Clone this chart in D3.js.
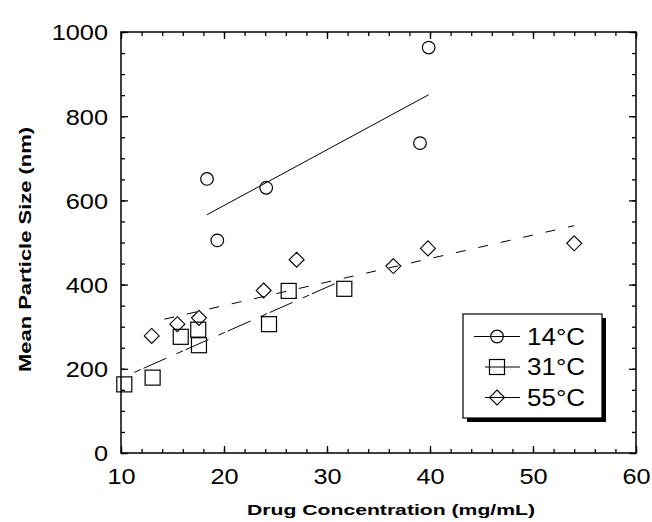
<!DOCTYPE html>
<html>
<head>
<meta charset="utf-8">
<script src="https://cdn.jsdelivr.net/npm/d3@7/dist/d3.min.js"></script>
<style>
  html, body { margin: 0; padding: 0; background: #fff; }
  svg { display: block; }
  text { font-family: "Liberation Sans", Arial, Helvetica, sans-serif; fill: #000; }
</style>
</head>
<body>
<svg id="chart" width="652" height="522"></svg>
<script>
// ---- data ----
const xTickValues = [10, 20, 30, 40, 50, 60];
const yTickValues = [0, 200, 400, 600, 800, 1000];
const xLabel = "Drug Concentration (mg/mL)";
const yLabel = "Mean Particle Size (nm)";
const seriesNames = ["14°C", "31°C", "55°C"];

const conc14 = [18.35, 19.35, 24.1, 39.03, 39.87];
const size14 = [651, 505, 630, 736, 963];

const conc31 = [10.32, 13.07, 15.8, 17.5, 17.57, 24.37, 26.28, 31.68];
const size31 = [163, 179, 276, 293, 256, 306, 385, 390];

const conc55 = [12.98, 15.47, 17.57, 23.85, 27.05, 36.44, 39.8, 54.0];
const size55 = [278, 306, 321, 386, 459, 444, 486, 498];

// fitted trend-line end points (conc, size)
const fit14 = [[18.35, 566], [39.87, 851]];
const fit31 = [[10.32, 181], [31.68, 412]];
const fit55 = [[12.98, 311], [54.0, 540]];

// ---- layout ----
const svg = d3.select("#chart");
const L = 121, R = 636, T = 32, B = 453;
const x = d3.scaleLinear().domain([10, 60]).range([L, R]);
const y = d3.scaleLinear().domain([0, 1000]).range([B, T]);

const xMinor = d3.range(10, 60.01, 2);
const yMinor = d3.range(0, 1000.01, 50);

function axisG(axis, tx, ty) {
  const g = svg.append("g").attr("transform", `translate(${tx},${ty})`).call(axis);
  g.select(".domain").remove();
  g.selectAll("line").attr("stroke", "#000").attr("stroke-width", 1.3);
  return g;
}

// minor ticks (inward, all four sides)
axisG(d3.axisBottom(x).tickValues(xMinor).tickSize(-4).tickFormat(""), 0, B);
axisG(d3.axisTop(x).tickValues(xMinor).tickSize(-4).tickFormat(""), 0, T);
axisG(d3.axisLeft(y).tickValues(yMinor).tickSize(-4).tickFormat(""), L, 0);
axisG(d3.axisRight(y).tickValues(yMinor).tickSize(-4).tickFormat(""), R, 0);

// major ticks
const gx = axisG(d3.axisBottom(x).tickValues(xTickValues).tickSize(-7).tickPadding(15.5).tickFormat(d3.format("d")), 0, B);
axisG(d3.axisTop(x).tickValues(xTickValues).tickSize(-7).tickFormat(""), 0, T);
const gy = axisG(d3.axisLeft(y).tickValues(yTickValues).tickSize(-7).tickPadding(13).tickFormat(d3.format("d")), L, 0);
axisG(d3.axisRight(y).tickValues(yTickValues).tickSize(-7).tickFormat(""), R, 0);

gx.selectAll("text")
  .attr("font-size", 22).attr("font-family", null)
  .attr("transform", "scale(1.15,1)");
gy.selectAll("text")
  .attr("font-size", 22).attr("font-family", null)
  .attr("dy", "0.36em")
  .attr("transform", function() {
    const xv = +d3.select(this).attr("x");
    d3.select(this).attr("x", 0);
    return `translate(${xv},0) scale(1.15,1)`;
  });

// frame
svg.append("rect")
  .attr("x", L).attr("y", T).attr("width", R - L).attr("height", B - T)
  .attr("fill", "none").attr("stroke", "#000").attr("stroke-width", 1.5);

// axis titles
function stretchedText(g, txt, size, targetLen) {
  const t = g.append("text").attr("font-size", size).attr("font-weight", "bold")
    .attr("text-anchor", "middle").text(txt);
  t.attr("textLength", targetLen).attr("lengthAdjust", "spacingAndGlyphs");
  return t;
}
const xt = svg.append("g").attr("transform", "translate(391,515)");
stretchedText(xt, xLabel, 15, 288);
const yt = svg.append("g").attr("transform", "translate(31,249.5) rotate(-90)");
stretchedText(yt, yLabel, 16, 245);

// trend lines
const lineGen = d3.line().x(d => x(d[0])).y(d => y(d[1]));
const styles = [
  { dash: null, offset: 0 },
  { dash: "7,3,25,11", offset: 35 },
  { dash: "10,13", offset: 10 }
];
[fit14, fit31, fit55].forEach((f, i) => {
  svg.append("path").datum(f)
    .attr("d", lineGen)
    .attr("fill", "none").attr("stroke", "#000").attr("stroke-width", 1)
    .attr("stroke-dasharray", styles[i].dash)
    .attr("stroke-dashoffset", styles[i].offset);
});

// markers
function circleM(g, cx, cy) {
  g.append("circle").attr("cx", cx).attr("cy", cy).attr("r", 6.3)
    .attr("fill", "none").attr("stroke", "#000").attr("stroke-width", 1.2);
}
function squareM(g, cx, cy) {
  g.append("rect").attr("x", cx - 7.5).attr("y", cy - 7.5).attr("width", 15).attr("height", 15)
    .attr("fill", "none").attr("stroke", "#000").attr("stroke-width", 1.2);
}
function diamondM(g, cx, cy) {
  const h = 7.5;
  g.append("path").attr("d", `M${cx},${cy - h}L${cx + h},${cy}L${cx},${cy + h}L${cx - h},${cy}Z`)
    .attr("fill", "none").attr("stroke", "#000").attr("stroke-width", 1.1);
}
const mg = svg.append("g");
conc14.forEach((c, i) => circleM(mg, x(c), y(size14[i])));
conc31.forEach((c, i) => squareM(mg, x(c), y(size31[i])));
conc55.forEach((c, i) => diamondM(mg, x(c), y(size55[i])));

// legend
const lg = svg.append("g");
lg.append("rect").attr("x", 467).attr("y", 318).attr("width", 139).attr("height", 104).attr("fill", "#000");
lg.append("rect").attr("x", 463).attr("y", 314).attr("width", 139).attr("height", 104)
  .attr("fill", "#fff").attr("stroke", "#000").attr("stroke-width", 1.2);
const rowsY = [336.5, 367, 397.5];
const lineStart = [474, 485, 485];
const markers = [circleM, squareM, diamondM];
seriesNames.forEach((name, i) => {
  lg.append("line").attr("x1", lineStart[i]).attr("x2", 520)
    .attr("y1", rowsY[i]).attr("y2", rowsY[i]).attr("stroke", "#000").attr("stroke-width", 1);
  markers[i](lg, 497, rowsY[i]);
  lg.append("text").attr("font-size", 23)
    .attr("transform", `translate(527,${rowsY[i] + 8}) scale(1.13,1)`)
    .text(name);
});
</script>
</body>
</html>
